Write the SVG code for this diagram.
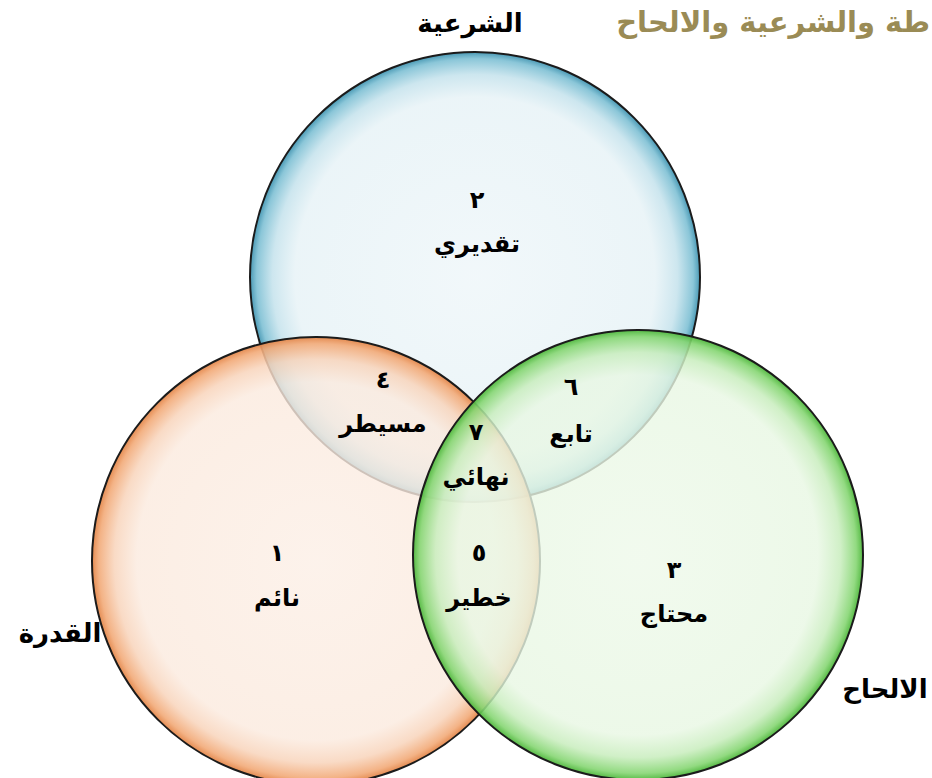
<svg xmlns="http://www.w3.org/2000/svg" width="932" height="778" viewBox="0 0 932 778">
<defs>
<radialGradient id="gBlue" cx="50%" cy="50%" r="50%">
<stop offset="0" stop-color="#eef6f9" stop-opacity="0.8"/>
<stop offset="0.8" stop-color="#e6f2f6" stop-opacity="0.8"/>
<stop offset="0.9" stop-color="#c4e2ec" stop-opacity="0.85"/>
<stop offset="0.97" stop-color="#7ec0d4" stop-opacity="0.9"/>
<stop offset="1" stop-color="#3f93b0" stop-opacity="0.95"/>
</radialGradient>
<radialGradient id="gOrange" cx="50%" cy="50%" r="50%">
<stop offset="0" stop-color="#fcefe6" stop-opacity="0.8"/>
<stop offset="0.8" stop-color="#fbeade" stop-opacity="0.8"/>
<stop offset="0.9" stop-color="#f8d4bb" stop-opacity="0.85"/>
<stop offset="0.97" stop-color="#f2aa78" stop-opacity="0.9"/>
<stop offset="1" stop-color="#e38548" stop-opacity="0.95"/>
</radialGradient>
<radialGradient id="gGreen" cx="50%" cy="50%" r="50%">
<stop offset="0" stop-color="#eef9ea" stop-opacity="0.8"/>
<stop offset="0.8" stop-color="#e8f7e3" stop-opacity="0.8"/>
<stop offset="0.9" stop-color="#c8edbd" stop-opacity="0.85"/>
<stop offset="0.97" stop-color="#86d673" stop-opacity="0.9"/>
<stop offset="1" stop-color="#4cb63a" stop-opacity="0.95"/>
</radialGradient>
</defs>
<style>
.c{stroke:#1b1b1b;stroke-width:2}
.t{font-family:"DejaVu Sans","Liberation Sans",sans-serif;font-weight:bold;fill:#000;text-anchor:middle;direction:rtl}
.l{font-size:26px}
.i{font-size:24px}
.title{font-family:"DejaVu Sans","Liberation Sans",sans-serif;font-weight:bold;fill:#9a8b55;font-size:29px;direction:rtl;text-anchor:start}
</style>
<rect width="932" height="778" fill="#fff"/>
<g id="circles">
<g id="blue"><circle class="c" cx="475" cy="277" r="225" fill="url(#gBlue)"/></g>
<g id="orange"><circle class="c" cx="316" cy="561" r="224" fill="url(#gOrange)"/></g>
<g id="green"><circle class="c" cx="638" cy="555" r="225" fill="url(#gGreen)"/></g>
</g>
<g id="connectors"></g>
<g id="title"><text class="title" x="930" y="32">طة والشرعية والالحاح</text></g>
<g id="label-shariya"><text class="t l" x="470" y="32">الشرعية</text></g>
<g id="label-qudra"><text class="t l" x="60" y="642">القدرة</text></g>
<g id="label-ilhah"><text class="t l" x="885" y="698">الالحاح</text></g>
<g id="n2"><text class="t i" x="477" y="208">٢</text><text class="t i" x="477" y="252">تقديري</text></g>
<g id="n4"><text class="t i" x="383" y="388">٤</text><text class="t i" x="383" y="432">مسيطر</text></g>
<g id="n6"><text class="t i" x="571" y="395">٦</text><text class="t i" x="571" y="442">تابع</text></g>
<g id="n7"><text class="t i" x="476" y="440">٧</text><text class="t i" x="476" y="485">نهائي</text></g>
<g id="n1"><text class="t i" x="277" y="561">١</text><text class="t i" x="277" y="606">نائم</text></g>
<g id="n5"><text class="t i" x="479" y="561">٥</text><text class="t i" x="479" y="606">خطير</text></g>
<g id="n3"><text class="t i" x="674" y="578">٣</text><text class="t i" x="674" y="622">محتاج</text></g>
</svg>
